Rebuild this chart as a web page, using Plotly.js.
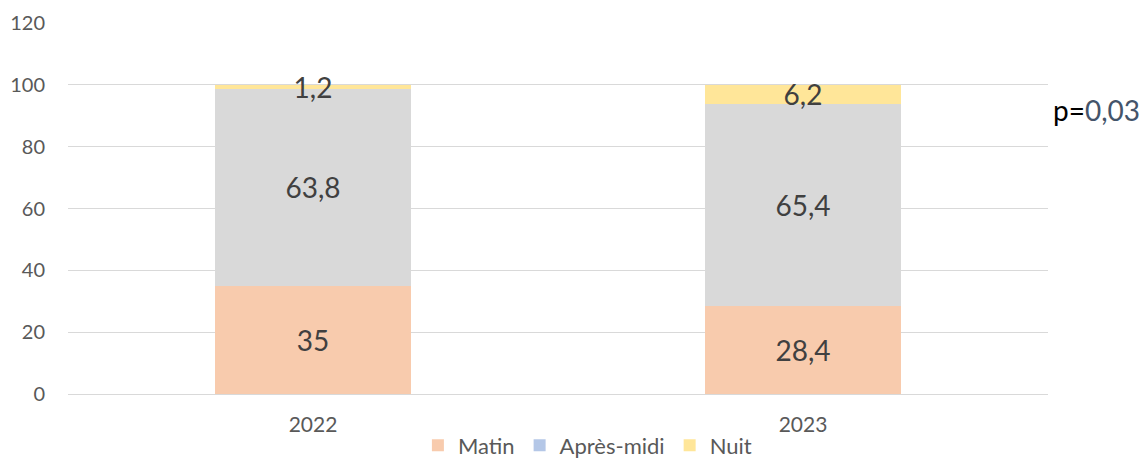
<!DOCTYPE html>
<html><head><meta charset="utf-8">
<script src="https://cdn.plot.ly/plotly-3.0.1.min.js"></script>
<style>body{margin:0;background:#fff}#c{width:1145px;height:459px}</style>
</head><body><div id="c"></div>
<script>
const years = ['2022', '2023'];
const matin = [35, 28.4];
const apresMidi = [63.8, 65.4];
const nuit = [1.2, 6.2];
const yTicks = [0, 20, 40, 60, 80, 100, 120];
const pLabel = 'p=';
const pValue = '0,03';

const fmt = v => String(v).replace('.', ',');
const labelFont = {family: 'Lato, Carlito, sans-serif', size: 28, color: '#404040'};
const common = {
  type: 'bar', x: years, width: 0.4, textposition: 'inside', insidetextanchor: 'middle',
  constraintext: 'none', textfont: labelFont, hoverinfo: 'skip', cliponaxis: false
};
const traces = [
  Object.assign({}, common, {name: 'Matin', y: matin, text: matin.map(fmt), marker: {color: '#F8CBAD'}, legendrank: 1}),
  Object.assign({}, common, {name: 'Après-midi', y: apresMidi, text: apresMidi.map(fmt), marker: {color: '#D9D9D9'}, showlegend: false}),
  Object.assign({}, common, {name: 'Nuit', y: nuit, text: nuit.map(fmt), marker: {color: '#FFE699'}, legendrank: 3}),
  {type: 'bar', name: 'Après-midi', x: years, y: [null, null], marker: {color: '#B4C7E7'}, legendrank: 2, hoverinfo: 'skip'}
];

const layout = {
  width: 1145, height: 459, barmode: 'stack',
  margin: {l: 68, r: 97, t: 23, b: 65, autoexpand: false},
  paper_bgcolor: '#fff', plot_bgcolor: '#fff',
  font: {family: 'Lato, Carlito, sans-serif', color: '#595959'},
  xaxis: {type: 'category', range: [-0.5, 1.5], showgrid: false, showline: false, zeroline: false,
          tickfont: {size: 21, color: '#595959'}, ticks: '', ticklabelstandoff: 16},
  yaxis: {range: [0, 120], tickvals: yTicks, showgrid: true, gridcolor: '#D9D9D9', gridwidth: 1,
          zeroline: true, zerolinecolor: '#D9D9D9', zerolinewidth: 1, showline: false,
          tickfont: {size: 20, color: '#595959'}, ticks: '', ticklabelstandoff: 22},
  showlegend: true,
  legend: {orientation: 'h', x: 0.53, xanchor: 'center', y: -0.082, yanchor: 'top',
           font: {size: 22, color: '#595959'}, traceorder: 'normal', itemclick: false},
  annotations: [{
    xref: 'paper', yref: 'y', x: 1.003, y: 92, xanchor: 'left', yanchor: 'middle', showarrow: false,
    text: pLabel + '<span style="color:#44546A">' + pValue + '</span>',
    font: {family: 'Lato, Carlito, sans-serif', size: 28, color: '#000000'}
  }]
};
Plotly.newPlot('c', traces, layout, {displayModeBar: false, staticPlot: true});
</script></body></html>
